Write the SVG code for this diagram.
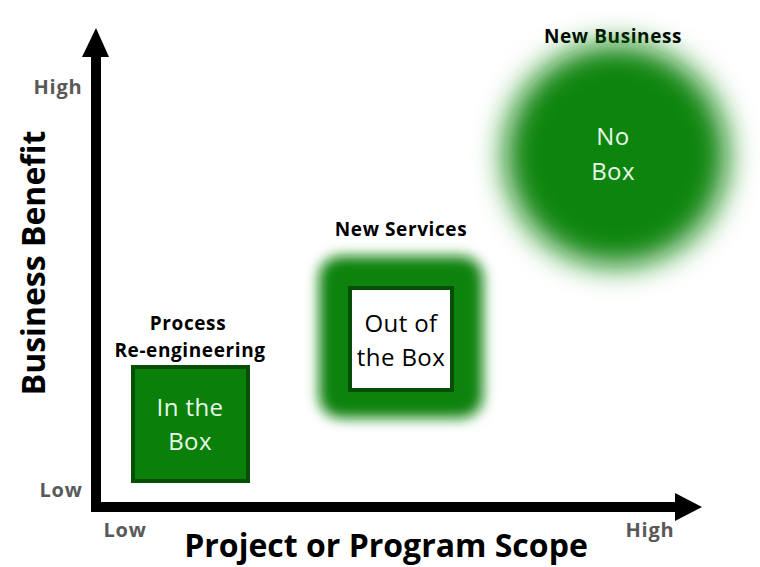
<svg xmlns="http://www.w3.org/2000/svg" width="760" height="567" viewBox="0 0 760 567">
<style>
.lbl{font-family:"Open Sans","Noto Sans",sans-serif;font-weight:bold;font-size:19px;letter-spacing:0.6px;fill:#000;text-anchor:middle}
.axl{font-family:"Open Sans","Noto Sans",sans-serif;font-weight:bold;font-size:20px;letter-spacing:0.8px;fill:#595959;text-anchor:middle}
.ttl{font-family:"Open Sans","Noto Sans",sans-serif;font-weight:bold;font-size:32px;fill:#000;text-anchor:middle}
.in{font-family:"Open Sans","Noto Sans",sans-serif;font-size:24px;letter-spacing:0.4px;text-anchor:middle}
</style>
<defs>
<filter id="blur1" x="-30%" y="-30%" width="160%" height="160%"><feGaussianBlur stdDeviation="6.5"/></filter>
<filter id="blur2" x="-40%" y="-40%" width="180%" height="180%"><feGaussianBlur stdDeviation="15"/></filter>
</defs>
<rect width="760" height="567" fill="#fff"/>
<g id="axes">
<rect x="91" y="50" width="10" height="462" fill="#000"/>
<polygon points="82,57 96,28 109,57" fill="#000"/>
<rect x="91" y="502" width="590" height="10" fill="#000"/>
<polygon points="675,493 702,507 675,521" fill="#000"/>
</g>
<g id="axis-labels">
<text class="axl" x="58" y="94">High</text>
<text class="axl" x="61" y="497">Low</text>
<text class="axl" x="125" y="537">Low</text>
<text class="axl" x="650" y="537">High</text>
<text class="ttl" transform="translate(45,263) rotate(-90)">Business Benefit</text>
<text class="ttl" x="386" y="557">Project or Program Scope</text>
</g>
<g id="in-the-box">
<text class="lbl" x="188" y="330">Process</text>
<text class="lbl" x="190" y="357">Re-engineering</text>
<rect x="133" y="367" width="115" height="114" fill="#0a800a" stroke="#064f06" stroke-width="4"/>
<text class="in" x="190" y="416" fill="#e8f7e8">In the</text>
<text class="in" x="190" y="450" fill="#e8f7e8">Box</text>
</g>
<g id="out-of-the-box">
<text class="lbl" x="401" y="236">New Services</text>
<rect x="319" y="256" width="164" height="162" rx="22" fill="#0a820a" filter="url(#blur1)"/>
<rect x="350" y="288" width="102" height="102" fill="#fff" stroke="#064f06" stroke-width="4"/>
<text class="in" x="401" y="332" fill="#000">Out of</text>
<text class="in" x="401" y="366" fill="#000">the Box</text>
</g>
<g id="no-box">
<text class="lbl" x="613" y="43">New Business</text>
<circle cx="616" cy="155" r="111" fill="#0a840a" filter="url(#blur2)"/>
<text class="in" x="613" y="145" fill="#e8f7e8">No</text>
<text class="in" x="613" y="180" fill="#e8f7e8">Box</text>
</g>
</svg>
